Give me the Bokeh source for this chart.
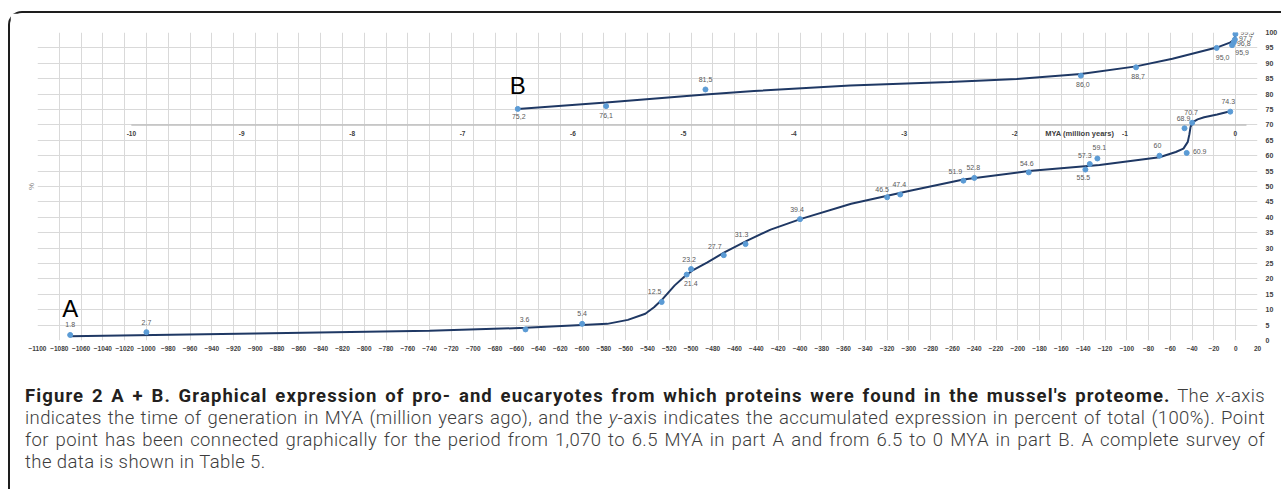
from bokeh.plotting import figure
from bokeh.models import Range1d, FixedTicker, Label, Div, LinearAxis
from bokeh.layouts import column
from bokeh.embed import file_html
from bokeh.resources import INLINE
from bokeh.core.properties import value

# ---------------- data ----------------
# Part A: time in MYA (negative = million years ago), accumulated expression in %
A_X = [-1070, -1000, -652, -600, -527, -504, -500, -470, -450, -400, -320, -308,
       -250, -240, -190, -138, -134, -127, -70, -47, -45, -40, -5]
A_Y = [1.8, 2.7, 3.6, 5.4, 12.5, 21.4, 23.2, 27.7, 31.3, 39.4, 46.5, 47.4,
       51.9, 52.8, 54.6, 55.5, 57.3, 59.1, 60, 68.9, 60.9, 70.7, 74.3]

# Part A fitted curve
A_FIT_X = [-1070, -900, -740, -652, -600, -577, -558, -542, -534, -526, -515, -506,
           -499, -485, -469, -448, -427, -399, -353, -299, -250, -190, -125, -70,
           -55, -48, -44, -42.5, -41.5, -39, -35, -29, -17, -5]
A_FIT_Y = [1.4, 2.3, 3.2, 4.1, 5.0, 5.4, 6.7, 8.7, 10.8, 13.5, 17.9, 20.8,
           22.7, 25.4, 28.7, 32.5, 36.0, 39.5, 44.4, 48.6, 52.3, 55.0, 57.0, 59.5,
           61.2, 62.3, 64.5, 67.0, 69.3, 71.0, 71.8, 72.5, 73.4, 74.4]

# Part B: time in MYA on the secondary scale (-10 .. 0)
B_X = [-6.5, -5.7, -4.8, -1.4, -0.9, -0.17, -0.03, -0.015, -0.005, 0.0]
B_Y = [75.2, 76.1, 81.5, 86.0, 88.7, 95.0, 95.9, 96.8, 97.7, 99.5]

B_FIT_X = [-6.5, -5.7, -4.8, -4.36, -3.49, -2.59, -1.98, -1.4, -0.9, -0.57,
           -0.17, -0.05, -0.01, 0.0]
B_FIT_Y = [75.2, 77.3, 79.9, 81.0, 82.8, 83.9, 84.9, 86.5, 89.0, 91.5,
           95.1, 96.7, 97.6, 99.5]

X_TICKS = list(range(-1100, 21, 20))
Y_TICKS = list(range(0, 101, 5))
B_TICKS = list(range(-10, 1))
B_AXIS_Y = 70

A_LABELS = [f"{v:g}" for v in A_Y]
B_LABELS = [f"{v:.1f}".replace(".", ",") for v in B_Y]

# ---------------- label placement (screen px offsets) ----------------
A_DX = [0, 0, -1, 0, -7, 4, -2, -9, -4, -3, -5, -1, -8, -1, -2, -2, -5, 2, -2, -1, 13, -1, -2]
A_DY = [-10, -10, -10, -10, -11, 9, -10, -9, -10, -10, -8, -10, -9, -10, -9, 8, -9, -11, -10, -10, -1, -10, -10]
B_DX = [1, 0, 0, 2, 2, 6, 10, 10, 11, 12]
B_DY = [8, 9, -10, 9, 9, 10, 7, 1, -1, -2]

LINE_COLOR = "#1f3864"
DOT_COLOR = "#5b9bd5"
LABEL_COLOR = "#595959"
AXIS_TEXT = "#404040"
GRID = "#d9d9d9"
FONT = value("Liberation Sans")

p = figure(width=1271, height=359, x_range=Range1d(-1100, 20), y_range=Range1d(0, 100),
           output_backend="svg", toolbar_location=None, y_axis_location="right",
           min_border_left=27, min_border_right=24, min_border_top=19, min_border_bottom=32,
           background_fill_color="white", border_fill_color="white", outline_line_color=None)
p.extra_x_ranges = {"b": Range1d(-10.85, 0.2)}

xa = p.xaxis[0]
xa.ticker = FixedTicker(ticks=X_TICKS)
xa.axis_line_color = None
xa.major_tick_line_color = None
xa.minor_tick_line_color = None
xa.major_tick_out = 0
xa.major_tick_in = 0
xa.major_label_standoff = 5
xa.major_label_text_font = "Liberation Sans"
xa.major_label_text_font_size = "6.5px"
xa.major_label_text_font_style = "bold"
xa.major_label_text_color = AXIS_TEXT

ya = p.yaxis[0]
ya.ticker = FixedTicker(ticks=Y_TICKS)
ya.axis_line_color = None
ya.major_tick_line_color = None
ya.minor_tick_line_color = None
ya.major_tick_out = 0
ya.major_tick_in = 0
ya.major_label_standoff = 8
ya.major_label_text_font = "Liberation Sans"
ya.major_label_text_font_size = "7px"
ya.major_label_text_font_style = "bold"
ya.major_label_text_color = AXIS_TEXT

# left axis only carries the "%" title
left = LinearAxis(ticker=FixedTicker(ticks=[]), axis_label="%", axis_line_color=None,
                  major_tick_line_color=None, minor_tick_line_color=None,
                  major_tick_out=0, major_tick_in=0, major_label_text_font_size="0px",
                  major_label_standoff=0, axis_label_standoff=2,
                  axis_label_text_font="Liberation Sans", axis_label_text_font_size="8px",
                  axis_label_text_font_style="normal", axis_label_text_color="#7f7f7f")
p.add_layout(left, "left")

p.xgrid.ticker = FixedTicker(ticks=X_TICKS)
p.ygrid.ticker = FixedTicker(ticks=Y_TICKS)
p.xgrid.grid_line_color = GRID
p.ygrid.grid_line_color = GRID

# secondary (part B) axis drawn inside the plot
p.segment(x0=[B_TICKS[0]], y0=[B_AXIS_Y], x1=[B_TICKS[-1] + 0.1], y1=[B_AXIS_Y],
          x_range_name="b", line_color="#bfbfbf", line_width=1.5)
p.text(x=B_TICKS, y=[B_AXIS_Y] * len(B_TICKS), text=[str(t) for t in B_TICKS],
       x_range_name="b", y_offset=9, text_align="center", text_baseline="middle",
       text_font=FONT, text_font_size="6.5px", text_font_style="bold", text_color=AXIS_TEXT)
p.text(x=[-1.41], y=[B_AXIS_Y], text=["MYA (million years)"], x_range_name="b",
       y_offset=9, text_align="center", text_baseline="middle",
       text_font=FONT, text_font_size="7.5px", text_font_style="bold", text_color=AXIS_TEXT)

# curves
p.line(A_FIT_X, A_FIT_Y, line_color=LINE_COLOR, line_width=2)
p.line(B_FIT_X, B_FIT_Y, x_range_name="b", line_color=LINE_COLOR, line_width=2)

# points
p.scatter(A_X, A_Y, size=5, color=DOT_COLOR)
p.scatter(B_X, B_Y, size=5, color=DOT_COLOR, x_range_name="b")

# data labels
p.text(x=A_X, y=A_Y, text=A_LABELS, x_offset=A_DX, y_offset=A_DY,
       text_align="center", text_baseline="middle", text_font=FONT,
       text_font_size="7px", text_color=LABEL_COLOR)
p.text(x=B_X, y=B_Y, text=B_LABELS, x_offset=B_DX, y_offset=B_DY, x_range_name="b",
       text_align="center", text_baseline="middle", text_font=FONT,
       text_font_size="7px", text_color=LABEL_COLOR)

# part letters
p.text(x=[A_X[0]], y=[A_Y[0]], text=["A"], y_offset=-26, text_align="center",
       text_baseline="middle", text_font=FONT, text_font_size="24px", text_color="#000000")
p.text(x=[B_X[0]], y=[B_Y[0]], text=["B"], y_offset=-23, x_range_name="b",
       text_align="center", text_baseline="middle", text_font=FONT,
       text_font_size="24px", text_color="#000000")

# bottom axis title (sits to the right, as in the original)
p.add_layout(Label(x=-140, y=0, y_offset=-23, text="MYA (million years)",
                   text_align="center", text_baseline="middle",
                   text_font="Liberation Sans", text_font_size="7.5px",
                   text_font_style="bold", text_color=AXIS_TEXT))

JUST = ("height:22px;width:1240px;text-align:justify;text-align-last:justify;"
        "overflow:hidden;")
LAST = "height:22px;white-space:nowrap;"
caption_html = (
    f"<div style='{JUST}'><b style='color:#231f20;font-weight:700;letter-spacing:1.1px'>"
    "Figure 2 A + B. Graphical expression of pro- and eucaryotes from which proteins were "
    "found in the mussel's proteome.</b> The <i>x</i>-axis</div>"
    f"<div style='{JUST}'>indicates the time of generation in MYA (million years ago), "
    "and the <i>y</i>-axis indicates the accumulated expression in percent of total (100%). Point</div>"
    f"<div style='{JUST}'>for point has been connected graphically for the period from "
    "1,070 to 6.5 MYA in part A and from 6.5 to 0 MYA in part B. A complete survey of</div>"
    f"<div style='{LAST}'>the data is shown in Table 5.</div>"
)
caption = Div(text=caption_html, width=1271, height=117,
              styles={"font-family": "Roboto", "font-size": "18.5px", "line-height": "22px",
                      "font-weight": "300", "color": "#3d3d3d", "letter-spacing": "0.4px",
                      "padding-left": "10px", "padding-top": "8px", "box-sizing": "border-box"})

layout = column(p, caption, margin=(11, 0, 0, 8),
                styles={"border-top": "2px solid #1e1e1e", "border-left": "2px solid #1e1e1e",
                        "border-top-left-radius": "14px"})

open("out.html", "w").write(file_html(layout, INLINE))
